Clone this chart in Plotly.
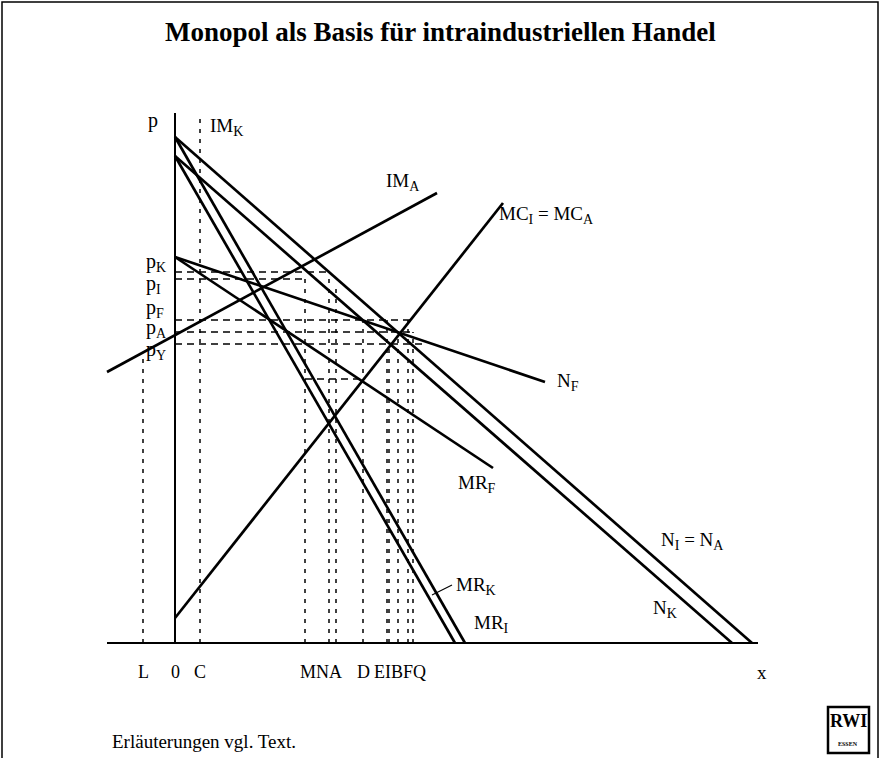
import plotly.graph_objects as go

# --- diagram data (x = quantity, p = price), origin at 0 ---
# solid curves: name -> (x0, p0, x1, p1)
curve_names = ["N_I", "N_K", "MR_I", "MR_K", "N_F", "MR_F", "MC", "IM_A"]
curve_x0 = [0, 0, 0, 0, 0, 0, 0, -68]
curve_p0 = [506, 487, 506, 487, 386, 386, 25, 271]
curve_x1 = [577, 557, 290, 280, 370, 318, 328, 262]
curve_p1 = [0, 0, 0, 0, 261, 175, 440, 450]

# price levels marked on the p-axis
price_labels = ["K", "I", "F", "A", "Y"]
price_values = [371, 364, 323, 311, 299]
price_dash_to = [154, 130, 235, 238, 250]

# quantities marked on the x-axis
qty_labels = ["L", "0", "C", "M", "N", "A", "D", "E", "I", "B", "F", "Q"]
qty_values = [-32, 0, 25, 130, 154, 161, 188, 212, 214, 223, 233, 238]
qty_dash_top = [285, 0, 525, 364, 371, 355, 323, 323, 299, 311, 323, 311]

# extra dashed connector between M and D
extra_p = 264
extra_x = [130, 188]

SERIF = "Liberation Serif, Times New Roman, serif"
W, H = 880, 758

fig = go.Figure()

# axes
fig.add_trace(go.Scatter(x=[0, 0, None, -68, 583], y=[530, 0, None, 0, 0],
                         mode="lines", line=dict(color="black", width=2),
                         hoverinfo="skip"))

# solid curves
for name, a, b, c, d in zip(curve_names, curve_x0, curve_p0, curve_x1, curve_p1):
    fig.add_trace(go.Scatter(x=[a, c], y=[b, d], mode="lines", name=name,
                             line=dict(color="black", width=2.7),
                             hoverinfo="skip"))

# horizontal dashed guides
hx, hy = [], []
for p, xe in zip(price_values, price_dash_to):
    hx += [0, xe, None]
    hy += [p, p, None]
hx += [extra_x[0], extra_x[1], None]
hy += [extra_p, extra_p, None]
fig.add_trace(go.Scatter(x=hx, y=hy, mode="lines",
                         line=dict(color="black", width=1.5, dash="7px,5px"),
                         hoverinfo="skip"))

# vertical dotted guides
vx, vy = [], []
for q, top in zip(qty_values, qty_dash_top):
    if top > 0:
        vx += [q, q, None]
        vy += [0, top, None]
fig.add_trace(go.Scatter(x=vx, y=vy, mode="lines",
                         line=dict(color="black", width=1.5, dash="4px,6px"),
                         hoverinfo="skip"))

ann = []


def sub(s):
    return "<sub><span style='font-size:14px'>%s</span></sub>" % s


def label(x, y, text, size=19, anchor="left"):
    ann.append(dict(x=x, y=y, text=text, showarrow=False, xanchor=anchor,
                    yanchor="middle", font=dict(family=SERIF, size=size,
                                                color="black")))


label(-22, 523, "p", size=20, anchor="center")
label(33, 516, "IM" + sub("K"))
label(209, 461, "IM" + sub("A"))
label(322, 428, "MC" + sub("I") + " = MC" + sub("A"))
label(380, 261, "N" + sub("F"))
label(281, 159, "MR" + sub("F"))
label(484, 102, "N" + sub("I") + " = N" + sub("A"))
label(476, 34, "N" + sub("K"))
label(279, 57, "MR" + sub("K"))
label(297, 19, "MR" + sub("I"))
label(587, -29, "x", anchor="center")

price_label_y = [381, 359, 335, 315, 293]
for name, py in zip(price_labels, price_label_y):
    label(-31, py, "p" + sub(name), size=20)

# quantity letters, grouped where they crowd together
groups = [[0], [1], [2], [3, 4, 5], [6], [7, 8, 9, 10, 11]]
for g in groups:
    xs = [qty_values[i] for i in g]
    label((min(xs) + max(xs)) / 2, -29, "".join(qty_labels[i] for i in g),
          size=18, anchor="center")

ann.append(dict(x=0.5, y=1 - 32 / H, xref="paper", yref="paper",
                text="<b>Monopol als Basis für intraindustriellen Handel</b>",
                showarrow=False, xanchor="center", yanchor="middle",
                font=dict(family=SERIF, size=27, color="black")))
ann.append(dict(x=110 / W, y=1 - 741 / H, xref="paper", yref="paper",
                text="Erläuterungen vgl. Text.", showarrow=False,
                xanchor="left", yanchor="middle",
                font=dict(family=SERIF, size=19, color="black")))
ann.append(dict(x=848 / W, y=1 - 721 / H, xref="paper", yref="paper",
                text="<b>RWI</b>", showarrow=False, xanchor="center",
                yanchor="middle",
                font=dict(family=SERIF, size=18, color="black")))
ann.append(dict(x=848 / W, y=1 - 744 / H, xref="paper", yref="paper",
                text="<b>ESSEN</b>", showarrow=False, xanchor="center",
                yanchor="middle",
                font=dict(family=SERIF, size=6, color="black")))

shapes = [
    # outer frame
    dict(type="rect", xref="paper", yref="paper", x0=2 / W, x1=878 / W,
         y0=-0.02, y1=1 - 2 / H, line=dict(color="black", width=1.5)),
    # RWI logo box
    dict(type="rect", xref="paper", yref="paper", x0=828 / W, x1=869 / W,
         y0=1 - 753 / H, y1=1 - 707 / H, line=dict(color="black", width=2.5)),
    # leader line for MR_K
    dict(type="line", xref="x", yref="y", x0=257, y0=48, x1=277, y1=58,
         line=dict(color="black", width=1.2)),
]

fig.update_layout(
    width=W, height=H,
    margin=dict(l=0, r=0, t=0, b=0),
    paper_bgcolor="white", plot_bgcolor="white",
    showlegend=False,
    xaxis=dict(range=[-175, 705], visible=False, fixedrange=True),
    yaxis=dict(range=[-115, 643], visible=False, fixedrange=True),
    annotations=ann,
    shapes=shapes,
)

fig.write_html(
    "out.html",
    config={"displayModeBar": False},
    post_script="document.body.style.margin='0';"
                "document.body.style.overflow='hidden';",
)
